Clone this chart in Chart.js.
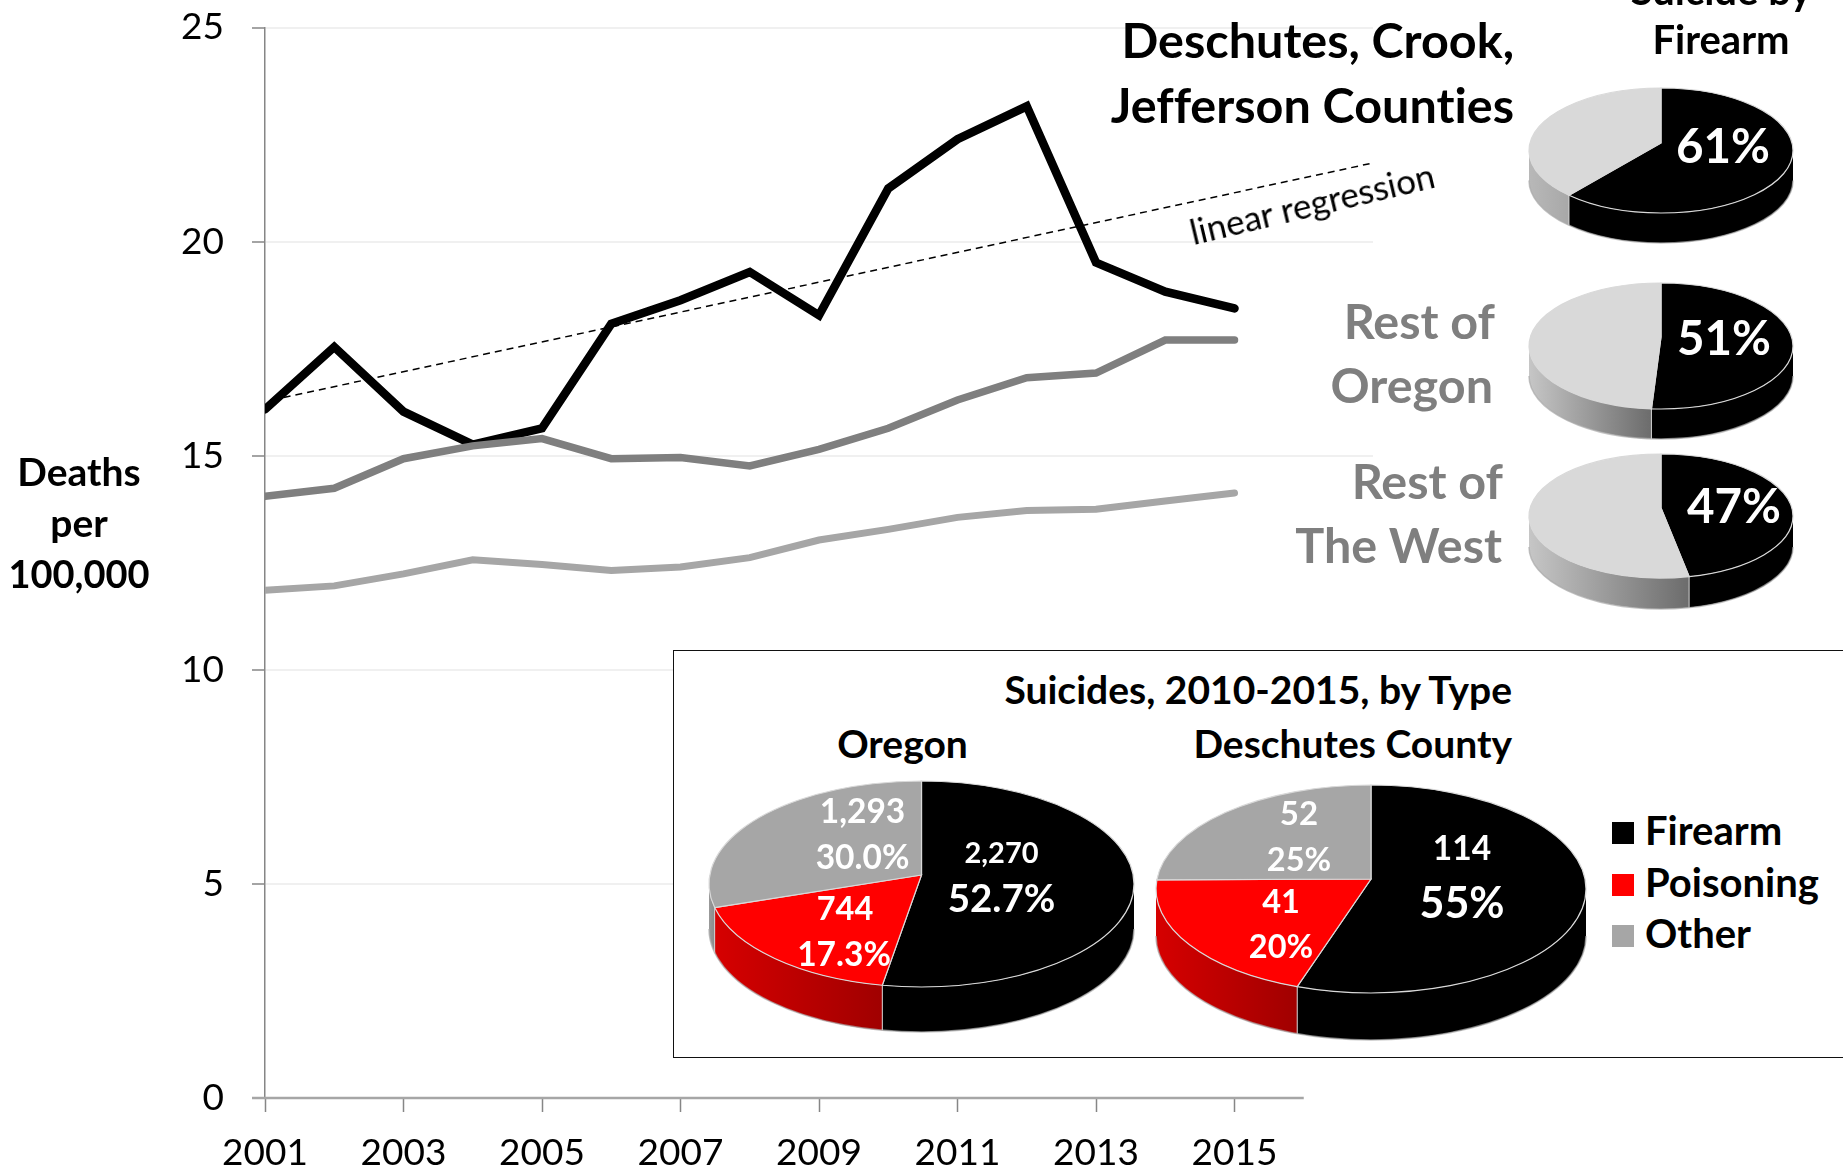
<!DOCTYPE html>
<html>
<head>
<meta charset="utf-8">
<title>Suicide deaths per 100,000</title>
<script src="https://cdn.jsdelivr.net/npm/chart.js@4"></script>
<style>
    html, body { margin: 0; padding: 0; background: #fff; overflow: hidden; }
    #stage { position: relative; width: 1843px; height: 1171px; overflow: hidden; font-family: Lato, sans-serif; }
    #mainChart { position: absolute; left: 0; top: 0; }
    #inset { position: absolute; left: 673px; top: 650px; width: 1180px; height: 406px; border: 1.5px solid #111; background: #fff; }
    .pie { position: absolute; }
    .txt { position: absolute; white-space: nowrap; line-height: 1; font-variant-ligatures: none; }
    .swatch { position: absolute; width: 22px; height: 22px; }
</style>
</head>
<body>
<div id="stage">
    <canvas id="mainChart" width="1843" height="1171"></canvas>
    <div id="inset"></div>
</div>
<script>
// ===== DATA =====
const years = [2001, 2002, 2003, 2004, 2005, 2006, 2007, 2008, 2009, 2010, 2011, 2012, 2013, 2014, 2015];
const deschutesRates = [16.08, 17.54, 16.03, 15.26, 15.64, 18.08, 18.63, 19.29, 18.28, 21.24, 22.39, 23.16, 19.51, 18.83, 18.44];
const oregonRates = [14.05, 14.24, 14.93, 15.23, 15.40, 14.93, 14.96, 14.76, 15.15, 15.64, 16.30, 16.82, 16.93, 17.70, 17.70];
const westRates = [11.86, 11.96, 12.24, 12.57, 12.46, 12.32, 12.40, 12.62, 13.03, 13.28, 13.56, 13.72, 13.75, 13.94, 14.13];
const regressionYears = [2001.1, 2016.95];
const regressionRates = [16.3, 21.82];

const firearmLabels = ['Firearm', 'Other'];
const deschutesFirearm = [61, 39];
const oregonFirearm = [51, 49];
const westFirearm = [47, 53];

const typeLabels = ['Firearm', 'Poisoning', 'Other'];
const oregonTypes = [2270, 744, 1293];
const oregonTypePct = ['52.7%', '17.3%', '30.0%'];
const countyTypes = [114, 41, 52];
const countyTypePct = ['55%', '20%', '25%'];

const stage = document.getElementById('stage');
const pts = (xs, ys) => xs.map((x, i) => ({ x: x, y: ys[i] }));

function addText(str, x, y, size, opts = {}) {
    const d = document.createElement('div');
    d.className = 'txt';
    d.textContent = str;
    d.style.fontSize = size + 'px';
    d.style.fontWeight = opts.weight || 700;
    d.style.color = opts.color || '#000';
    d.style.top = y + 'px';
    if (opts.align === 'right') {
        d.style.right = (1843 - x) + 'px';
        d.style.transform = 'translateY(-50%)';
    } else if (opts.align === 'left') {
        d.style.left = x + 'px';
        d.style.transform = 'translateY(-50%)';
    } else {
        d.style.left = x + 'px';
        d.style.transform = 'translate(-50%,-50%)' + (opts.rotate ? ` rotate(${opts.rotate}deg)` : '');
    }
    stage.appendChild(d);
}

// ===== LINE CHART =====
const xAxisLine = {
    id: 'xAxisLine',
    beforeDatasetsDraw(chart) {
        const { ctx, scales: { x, y } } = chart;
        ctx.save();
        ctx.strokeStyle = '#a6a6a6';
        ctx.lineWidth = 2.5;
        ctx.beginPath();
        ctx.moveTo(x.getPixelForValue(2001) - 13, y.getPixelForValue(0));
        ctx.lineTo(x.getPixelForValue(2016), y.getPixelForValue(0));
        ctx.stroke();
        ctx.restore();
    }
};

new Chart(document.getElementById('mainChart'), {
    type: 'line',
    data: {
        datasets: [
            { label: 'Rest of The West', data: pts(years, westRates), borderColor: '#a6a6a6', borderWidth: 7 },
            { label: 'Rest of Oregon', data: pts(years, oregonRates), borderColor: '#7f7f7f', borderWidth: 7.5 },
            { label: 'Deschutes, Crook, Jefferson Counties', data: pts(years, deschutesRates), borderColor: '#000', borderWidth: 8.5 },
            { label: 'linear regression', data: pts(regressionYears, regressionRates), borderColor: '#000', borderWidth: 1.5, borderDash: [7, 5], borderCapStyle: 'butt' }
        ]
    },
    options: {
        responsive: false,
        animation: false,
        layout: { padding: { top: 27.5, right: 470, left: 0, bottom: 0 } },
        elements: {
            point: { radius: 0 },
            line: { tension: 0, borderJoinStyle: 'miter', borderCapStyle: 'round' }
        },
        plugins: { legend: { display: false }, tooltip: { enabled: false } },
        scales: {
            x: {
                type: 'linear',
                min: 2001,
                max: 2017,
                afterBuildTicks: s => { s.ticks = s.ticks.filter(t => t.value <= 2015); },
                afterFit: s => { s.height = 73; s.paddingLeft = 0; s.paddingRight = 0; },
                ticks: { stepSize: 2, autoSkip: false, maxRotation: 0, padding: 19, color: '#000', font: { family: 'Lato', size: 37 }, callback: v => String(v) },
                grid: { drawOnChartArea: false, tickLength: 14, tickColor: '#868686', tickWidth: 1.5 },
                border: { display: false }
            },
            y: {
                min: 0,
                max: 25,
                afterFit: s => { s.width = 265; s.paddingTop = 0; s.paddingBottom = 0; },
                ticks: { stepSize: 5, padding: 28, color: '#000', font: { family: 'Lato', size: 37 } },
                grid: { color: c => c.tick.value === 0 ? 'rgba(0,0,0,0)' : '#f0f0f0', lineWidth: 2, tickLength: 13, tickColor: '#868686', tickWidth: 1.5 },
                border: { color: '#868686', width: 1.5 }
            }
        }
    },
    plugins: [xAxisLine]
});

// ===== PIES =====
// slices get their angles from chart.js, the plugin just draws them as a tilted disc.
// warp() is the perspective: the disc centre sits above the middle of the ellipse
function warp(theta, b) {
    if (theta >= Math.PI * 1.5 - 1e-6) return Math.PI * 1.5;
    const s = Math.sin(theta), c = Math.cos(theta);
    const k = 1 + b * s;
    let t = Math.atan2((s + b) / k, Math.sqrt(1 - b * b) * c / k);
    if (t < -Math.PI / 2 - 1e-6) t += Math.PI * 2;
    return t;
}

const disc3d = {
    id: 'disc3d',
    beforeDatasetsDraw(chart, args, o) {
        const ctx = chart.ctx;
        const b = (o.vy - o.cy) / o.ry;
        const arcs = chart.getDatasetMeta(0).data.map(a => ({ start: warp(a.startAngle, b), end: warp(a.endAngle, b) }));
        const colors = chart.data.datasets[0].backgroundColor;
        const d = o.depth;

        // side wall, only the front half of the disc shows
        arcs.forEach((a, i) => {
            const t1 = Math.max(a.start, 0), t2 = Math.min(a.end, Math.PI);
            if (t1 >= t2) return;
            const g = ctx.createLinearGradient(o.cx + o.rx * Math.cos(t2), 0, o.cx + o.rx * Math.cos(t1), 0);
            g.addColorStop(0, o.wall[i][0]);
            g.addColorStop(1, o.wall[i][1]);
            ctx.beginPath();
            ctx.ellipse(o.cx, o.cy, o.rx, o.ry, 0, t1, t2);
            ctx.ellipse(o.cx, o.cy + d, o.rx, o.ry, 0, t2, t1, true);
            ctx.closePath();
            ctx.fillStyle = g;
            ctx.fill();
        });

        // soft outer edge of the wall
        ctx.strokeStyle = 'rgba(170,170,170,0.7)';
        ctx.lineWidth = 1.5;
        ctx.beginPath();
        ctx.ellipse(o.cx, o.cy + d, o.rx, o.ry, 0, 0, Math.PI);
        ctx.stroke();

        // slice edges running down the wall
        ctx.strokeStyle = '#d0d0d0';
        ctx.lineWidth = 1;
        arcs.forEach(a => {
            if (a.end > 0 && a.end < Math.PI) {
                const x = o.cx + o.rx * Math.cos(a.end), y = o.cy + o.ry * Math.sin(a.end);
                ctx.beginPath();
                ctx.moveTo(x, y);
                ctx.lineTo(x, y + d);
                ctx.stroke();
            }
        });

        // top face
        arcs.forEach((a, i) => {
            ctx.beginPath();
            ctx.moveTo(o.cx, o.vy);
            ctx.ellipse(o.cx, o.cy, o.rx, o.ry, 0, a.start, a.end);
            ctx.closePath();
            ctx.fillStyle = colors[i];
            ctx.fill();
            ctx.strokeStyle = '#d9d9d9';
            ctx.lineWidth = 1.2;
            ctx.stroke();
        });
        return false;
    }
};

function addPie(labels, values, colors, wall, g) {
    const c = document.createElement('canvas');
    const left = g.cx - g.rx - 6, top = g.top - 6;
    const w = g.rx * 2 + 12, h = g.ry * 2 + g.depth + 14;
    c.className = 'pie';
    c.width = w;
    c.height = h;
    c.style.left = left + 'px';
    c.style.top = top + 'px';
    stage.appendChild(c);
    new Chart(c, {
        type: 'pie',
        data: { labels: labels, datasets: [{ data: values, backgroundColor: colors, borderWidth: 0 }] },
        options: {
            responsive: false,
            animation: false,
            plugins: {
                legend: { display: false },
                tooltip: { enabled: false },
                disc3d: { cx: g.cx - left, cy: g.top + g.ry - top, rx: g.rx, ry: g.ry, vy: g.vy - top, depth: g.depth, wall: wall }
            }
        },
        plugins: [disc3d]
    });
}

const blackWall = ['#000', '#000'];
const greyWall = ['#c6c6c6', '#6c6c6c'];
const redWall = ['#d60000', '#a00000'];
const smallColors = ['#000', '#d9d9d9'];
const typeColors = ['#000', '#ff0000', '#a6a6a6'];

addPie(firearmLabels, deschutesFirearm, smallColors, [blackWall, ['#b8b8b8', '#a8a8a8']], { cx: 1661, rx: 132, top: 88, ry: 62.5, vy: 143, depth: 30 });
addPie(firearmLabels, oregonFirearm, smallColors, [blackWall, greyWall], { cx: 1661, rx: 132, top: 283, ry: 63, vy: 337, depth: 30 });
addPie(firearmLabels, westFirearm, smallColors, [blackWall, greyWall], { cx: 1661, rx: 132, top: 454, ry: 62, vy: 508, depth: 31 });
addPie(typeLabels, oregonTypes, typeColors, [blackWall, redWall, ['#9a9a9a', '#8a8a8a']], { cx: 921.5, rx: 212.5, top: 781, ry: 103, vy: 875, depth: 45 });
addPie(typeLabels, countyTypes, typeColors, [blackWall, redWall, ['#9a9a9a', '#8a8a8a']], { cx: 1371, rx: 215, top: 785, ry: 104, vy: 879, depth: 47 });

// ===== TEXT =====
const grey = { color: '#7f7f7f', align: 'right' };
const white = { color: '#fff' };

addText('Suicide by', 1721, -10, 40);
addText('Firearm', 1721, 39, 40);
addText('Deschutes, Crook,', 1514, 39, 48.5, { align: 'right' });
addText('Jefferson Counties', 1514, 104, 48.5, { align: 'right' });
addText('Rest of', 1495, 320, 48.5, grey);
addText('Oregon', 1493, 384, 48.5, grey);
addText('Rest of', 1503, 480, 48.5, grey);
addText('The West', 1502, 544, 48.5, grey);
addText(deschutesFirearm[0] + '%', 1723, 145, 47.5, white);
addText(oregonFirearm[0] + '%', 1724, 337, 47.5, white);
addText(westFirearm[0] + '%', 1734, 505, 47.5, white);

addText('linear regression', 1312, 203, 35, { weight: 400, rotate: -13.4 });
addText('Deaths', 79, 471, 39);
addText('per', 79, 522, 39);
addText('100,000', 79, 573, 38);

addText('Suicides, 2010-2015, by Type', 1512, 689, 39, { align: 'right' });
addText('Oregon', 902.5, 743, 39);
addText('Deschutes County', 1512, 743, 39, { align: 'right' });

const fmt = n => n.toLocaleString('en-US');
addText(fmt(oregonTypes[2]), 862.5, 811, 33.5, white);
addText(oregonTypePct[2], 862.5, 857, 33.5, white);
addText(fmt(oregonTypes[1]), 845, 908, 32.5, white);
addText(oregonTypePct[1], 844, 954, 33.5, white);
addText(fmt(oregonTypes[0]), 1001.5, 851, 29, white);
addText(oregonTypePct[0], 1001.5, 897, 38.5, white);

addText(fmt(countyTypes[2]), 1299, 812, 33, white);
addText(countyTypePct[2], 1299, 859, 32.5, white);
addText(fmt(countyTypes[1]), 1281, 901, 32.5, white);
addText(countyTypePct[1], 1281, 946, 32.5, white);
addText(fmt(countyTypes[0]), 1462, 848, 33.5, white);
addText(countyTypePct[0], 1462, 901, 43, white);

typeLabels.forEach((t, i) => {
    const s = document.createElement('div');
    s.className = 'swatch';
    s.style.left = '1612px';
    s.style.top = (822 + i * 51.5) + 'px';
    s.style.background = typeColors[i];
    stage.appendChild(s);
    addText(t, 1645, 830 + i * 51.5, 40, { align: 'left' });
});
</script>
</body>
</html>
